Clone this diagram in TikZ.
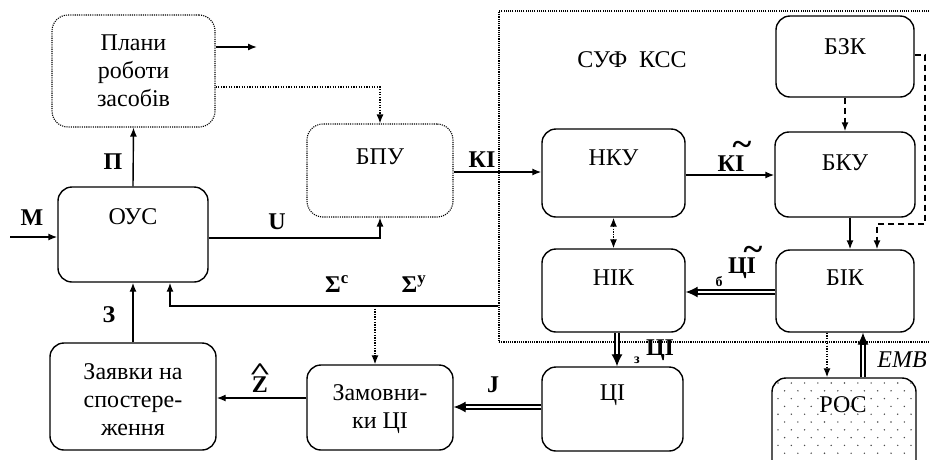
\documentclass[tikz,border=0pt]{standalone}
\usepackage{fontspec}
\setmainfont{Liberation Serif}
\usetikzlibrary{arrows.meta,calc}
\begin{document}
\begin{tikzpicture}[x=1pt,y=-1pt,
  box/.style={draw,line width=1.4pt,rounded corners=14pt,inner sep=0pt},
  dbox/.style={draw,line width=1.1pt,dash pattern=on 1.1pt off 1.1pt,rounded corners=16pt,inner sep=0pt},
  sufbox/.style={draw,line width=1.1pt,dash pattern=on 1.1pt off 1.1pt,inner sep=0pt},
  txt/.style={font=\fontsize{24}{28}\selectfont,align=center,inner sep=0pt},
  lab/.style={font=\fontsize{24}{28}\selectfont\bfseries,inner sep=0pt},
  sub/.style={font=\fontsize{14}{14}\selectfont\bfseries,inner sep=0pt},
  arr/.style={line width=1.4pt,-{Latex[length=9pt,width=7pt]}},
  dotarr/.style={line width=1.3pt,dash pattern=on 1.3pt off 1.3pt,-{Latex[length=9pt,width=7pt]}},
  dotboth/.style={line width=1.3pt,dash pattern=on 1.3pt off 1.3pt,{Latex[length=9pt,width=7pt]}-{Latex[length=9pt,width=7pt]}},
  dasharr/.style={line width=1.6pt,dash pattern=on 6pt off 4pt,-{Latex[length=9pt,width=7pt]}},
  dshaft/.style={line width=1.6pt,double,double distance=2.4pt},
  dtip/.style={line width=1.2pt,-{Latex[length=12pt,width=11pt]}}
]
\useasboundingbox (0,0) rectangle (929,459);
\clip (0,0) rectangle (929,459);

% boxes
\node[sufbox,minimum width=450pt,minimum height=331pt] (suf) at (724,176.5) {};
\node[txt] (sufT) at (632,60) {СУФ\,\,\,КСС};

\node[dbox,minimum width=163pt,minimum height=112pt] (plani) at (133.5,71) {};
\node[txt] (planiT) at (133.5,71) {Плани\\роботи\\засобів};
\node[dbox,minimum width=146pt,minimum height=93pt] (bpu) at (380,170.5) {};
\node[txt] (bpuT) at (380,157) {БПУ};
\node[box,minimum width=150pt,minimum height=95pt] (ous) at (133,234.5) {};
\node[txt] (ousT) at (133,217) {ОУС};
\node[box,minimum width=143pt,minimum height=88pt] (nku) at (613.5,173) {};
\node[txt] (nkuT) at (613.5,158) {НКУ};
\node[box,minimum width=140pt,minimum height=85pt] (bku) at (845,174.5) {};
\node[txt] (bkuT) at (845,163) {БКУ};
\node[box,minimum width=138pt,minimum height=81pt] (bzk) at (845,56.5) {};
\node[txt] (bzkT) at (845,47) {БЗК};
\node[box,minimum width=143pt,minimum height=83pt] (nik) at (613.5,290.5) {};
\node[txt] (nikT) at (613.5,278) {НІК};
\node[box,minimum width=138pt,minimum height=82pt] (bik) at (845,291) {};
\node[txt] (bikT) at (845,278) {БІК};
\node[box,minimum width=141pt,minimum height=84pt] (ci) at (612.5,409) {};
\node[txt] (ciT) at (612.5,395) {ЦІ};
\node[box,minimum width=146pt,minimum height=85pt] (zam) at (380,407.5) {};
\node[txt] (zamT) at (380,409.5) {Замовни-\\ки ЦІ};
\node[box,minimum width=166pt,minimum height=107pt] (zayav) at (133,396.5) {};
\node[txt] (zayavT) at (133,399.5) {Заявки на\\спостере-\\ження};
\node[box,minimum width=144pt,minimum height=98pt] (ros) at (844,427) {};
\begin{scope}
  \clip[rounded corners=14pt] (ros.north west) rectangle (ros.south east);
  \foreach \r in {0,...,12} {
    \foreach \c in {0,...,11} {
      \fill[black!70] ({778+13.3*\c+6.6*mod(\r,2)},{383+7.8*\r}) circle (0.8pt);
    }
  }
\end{scope}
\node[txt] (rosT) at (843,405) {РОС};

% helper coordinates
\coordinate (yA) at (0,47);
\coordinate (yB) at (0,87);
\coordinate (yU) at (0,238);
\coordinate (yKI) at (0,172);
\coordinate (yKT) at (0,175);
\coordinate (yC) at (0,292);
\coordinate (yJ) at (0,407);
\coordinate (yZ) at (0,398);
\coordinate (m0) at (10,237);
\coordinate (pout) at (257,47);
\coordinate (s1) at (170,306);
\coordinate (s2) at (375,306);
\coordinate (c1) at (925,55);
\coordinate (c2) at (877,224);
\coordinate (xA) at (850,0);
\coordinate (xB) at (617,0);
\coordinate (xC) at (827,0);
\coordinate (xD) at (863,0);

% connectors
\draw[arr] (m0) -- (ous.west |- m0);
\draw[arr] (ous.north) -- (plani.south);
\draw[arr] (plani.east |- yA) -- (pout);
\draw[dotarr] (plani.east |- yB) -| (bpu.north);
\draw[arr] (ous.east |- yU) -| (bpu.south);
\draw[arr] (bpu.east |- yKI) -- (nku.west |- yKI);
\draw[arr] (nku.east |- yKT) -- (bku.west |- yKT);
\draw[dasharr] (bzk.south) -- (bku.north);
\draw[dasharr] (bzk.east |- c1) -- (c1) |- (c2) -- (c2 |- bik.north);
\draw[arr] (bku.south -| xA) -- (bik.north -| xA);
\draw[dotboth] (nku.south) -- (nik.north);
\draw[dshaft] (bik.west |- yC) -- ($(nik.east |- yC)+(10,0)$);
\draw[dtip] ($(nik.east |- yC)+(12,0)$) -- (nik.east |- yC);
\draw[dshaft] (nik.south -| xB) -- ($(ci.north -| xB)+(0,-10)$);
\draw[dtip] ($(ci.north -| xB)+(0,-12)$) -- (ci.north -| xB);
\draw[dshaft] (ci.west |- yJ) -- ($(zam.east |- yJ)+(10,0)$);
\draw[dtip] ($(zam.east |- yJ)+(12,0)$) -- (zam.east |- yJ);
\draw[dshaft] (ros.north -| xD) -- ($(bik.south -| xD)+(0,10)$);
\draw[dtip] ($(bik.south -| xD)+(0,12)$) -- (bik.south -| xD);
\draw[dotarr] (bik.south -| xC) -- (ros.north -| xC);
\draw[arr] (zam.west |- yZ) -- (zayav.east |- yZ);
\draw[arr] (zayav.north) -- (ous.south);
\draw[arr] (suf.west |- s1) -- (s1) -- (s1 |- ous.south);
\draw[dotarr] (s2) -- (s2 |- zam.north);

% labels
\node[lab] (lM) at (32,218) {M};
\node[lab] (lP) at (113,162) {П};
\node[lab] (lU) at (277,222) {U};
\node[lab] (lKI) at (482,160) {КІ};
\node[lab] (lKT) at (731,164) {КІ};
\node[lab] (lKTt) at (742,148) {\scalebox{1.5}[1.4]{\textasciitilde}};
\node[lab] (lCT) at (742,268) {ЦІ};
\node[lab] (lCTt) at (753,253) {\scalebox{1.5}[1.4]{\textasciitilde}};
\node[sub] (lCTb) at (719,282) {б};
\node[lab] (lCZ) at (660,350) {ЦІ};
\node[sub] (lCZz) at (637,360) {з};
\node[lab] (lJ) at (493,385) {J};
\node[lab] (lZh) at (260,385) {Z};
\node[lab] (lZhh) at (260,372) {\scalebox{1.6}[1]{\textasciicircum}};
\node[lab] (lZ) at (109,315) {З};
\node[lab] (lSc) at (337,284) {Σ\textsuperscript{с}};
\node[lab] (lSy) at (414,284) {Σ\textsuperscript{у}};
\node[txt,font=\fontsize{24}{28}\selectfont\itshape] (lEMB) at (902,360) {EMB};
\end{tikzpicture}
\end{document}
